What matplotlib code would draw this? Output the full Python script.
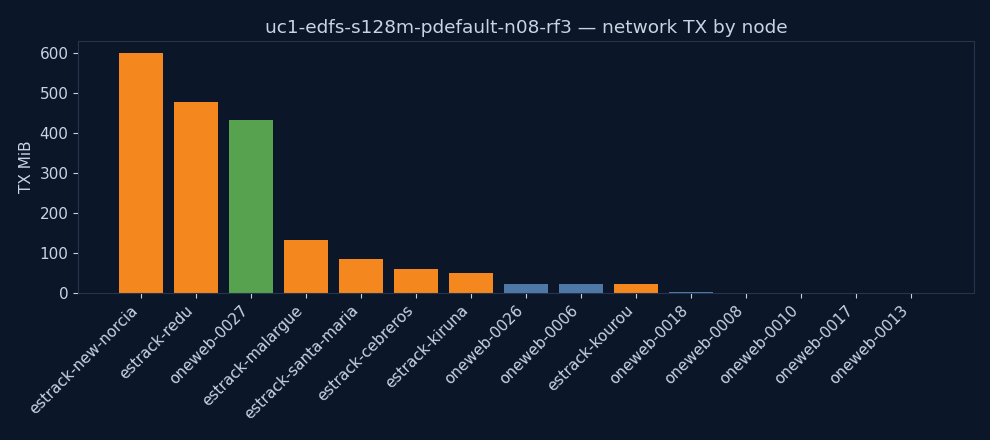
import matplotlib
matplotlib.use('Agg')
import matplotlib.pyplot as plt

nodes = ['estrack-new-norcia', 'estrack-redu', 'oneweb-0027', 'estrack-malargue',
         'estrack-santa-maria', 'estrack-cebreros', 'estrack-kiruna', 'oneweb-0026',
         'oneweb-0006', 'estrack-kourou', 'oneweb-0018', 'oneweb-0008',
         'oneweb-0010', 'oneweb-0017', 'oneweb-0013']
tx_mib = [600, 477, 432, 132, 85, 60, 50, 22, 22, 22, 2.5, 0, 0, 0, 0]
# kind of node: ground station, satellite, highlighted satellite
kinds = ['gs', 'gs', 'hot', 'gs', 'gs', 'gs', 'gs', 'sat', 'sat', 'gs',
         'sat', 'sat', 'sat', 'sat', 'sat']

palette = {'gs': '#F5871F', 'sat': '#4E79A7', 'hot': '#57A24E'}
bg = '#0B1628'
fg = '#C9D4E3'
edge = '#26344D'

fig, ax = plt.subplots(figsize=(9.9, 4.4), dpi=100)
fig.patch.set_facecolor(bg)
ax.set_facecolor(bg)

ax.bar(range(len(nodes)), tx_mib, color=[palette[k] for k in kinds])

ax.set_xticks(range(len(nodes)))
ax.set_xticklabels(nodes, rotation=45, ha='right')
ax.set_ylabel('TX MiB', color=fg, fontsize=11)
ax.set_title('uc1-edfs-s128m-pdefault-n08-rf3 \u2014 network TX by node', color=fg, fontsize=13.3)

ax.tick_params(colors=fg, labelsize=11)
for s in ax.spines.values():
    s.set_color(edge)

fig.subplots_adjust(left=0.079, right=0.984, top=0.907, bottom=0.334)
fig.savefig('out.png', facecolor=bg)
